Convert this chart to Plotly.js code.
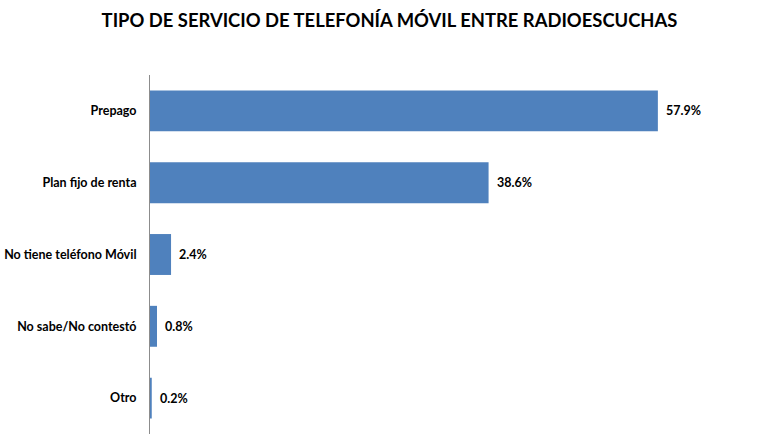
<!DOCTYPE html>
<html><head><meta charset="utf-8">
<script src="https://cdn.plot.ly/plotly-3.0.1.min.js"></script>
<style>html,body{margin:0;padding:0;background:#fff}</style>
</head><body>
<div id="chart" style="width:779px;height:447px"></div>
<script>
var categories = ["Prepago", "Plan fijo de renta", "No tiene teléfono Móvil", "No sabe/No contestó", "Otro"];
var values = [57.9, 38.6, 2.4, 0.8, 0.2];
var valueLabels = ["57.9%", "38.6%", "2.4%", "0.8%", "0.2%"];

var FONT = "Lato, sans-serif";
var trace = {
  type: "bar", orientation: "h",
  y: categories, x: values,
  marker: {color: "#4F81BD"},
  hoverinfo: "none"
};
var annotations = categories.map(function(c, i){
  return {x: values[i], y: c, xref: "x", yref: "y", text: "<b>" + valueLabels[i] + "</b>",
    showarrow: false, xanchor: "left", xshift: 6,
    font: {family: FONT, size: 12.5, color: "#000"}};
});
var layout = {
  width: 779, height: 447,
  margin: {l: 150, r: 15, t: 75, b: 13},
  paper_bgcolor: "#fff", plot_bgcolor: "#fff",
  bargap: 0.43,
  showlegend: false,
  title: {text: "<b>TIPO DE SERVICIO DE TELEFONÍA MÓVIL ENTRE RADIOESCUCHAS</b>",
    font: {family: FONT, size: 18.4, color: "#000"},
    x: 0.5, xanchor: "center", xref: "container", y: 0.955, yref: "container", yanchor: "middle"},
  xaxis: {range: [0, 70], visible: false, fixedrange: true},
  yaxis: {autorange: "reversed", showline: true, linecolor: "#8c8c8c", linewidth: 1,
    ticks: "", showgrid: false, zeroline: false, ticklabelstandoff: 10,
    tickfont: {family: FONT, size: 12.5, color: "#000"},
    tickvals: categories, ticktext: categories.map(function(c){return "<b>" + c + "</b>";})},
  annotations: annotations
};
Plotly.newPlot("chart", [trace], layout, {displayModeBar: false, staticPlot: true});
</script>
</body></html>
